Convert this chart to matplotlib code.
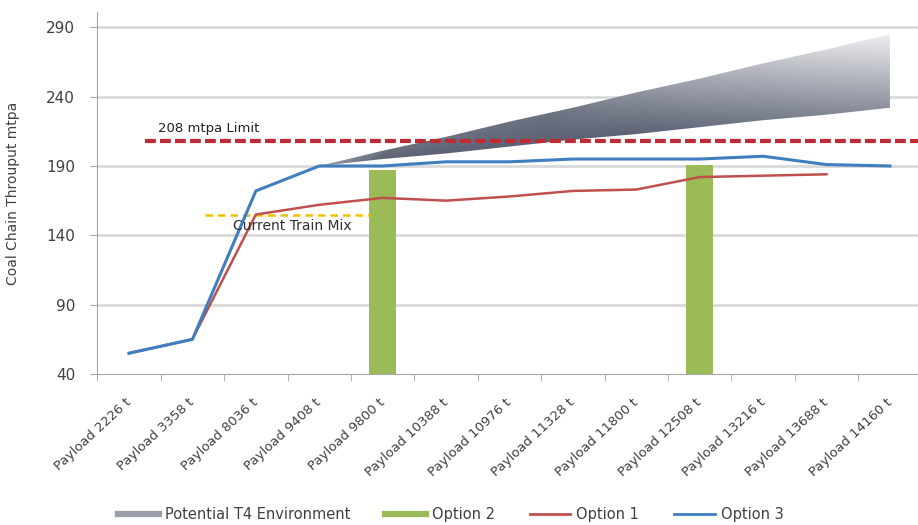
import numpy as np
import matplotlib
matplotlib.use("Agg")
import matplotlib.pyplot as plt
from matplotlib.lines import Line2D

plt.rcParams['font.family'] = ['DejaVu Sans']

# Categories along the x axis
PAYLOADS = ["Payload 2226 t", "Payload 3358 t", "Payload 8036 t", "Payload 9408 t",
            "Payload 9800 t", "Payload 10388 t", "Payload 10976 t", "Payload 11328 t",
            "Payload 11800 t", "Payload 12508 t", "Payload 13216 t", "Payload 13688 t",
            "Payload 14160 t"]

# Option 3 (blue) - all payloads
OPTION_3 = [55, 65, 172, 190, 190, 193, 193, 195, 195, 195, 197, 191, 190]
# Option 1 (red) - stops at 13688 t
OPTION_1 = [55, 65, 155, 162, 167, 165, 168, 172, 173, 182, 183, 184]
# Option 2 (green bars) - only two payloads
OPTION_2_CATS = ["Payload 9800 t", "Payload 12508 t"]
OPTION_2 = [187, 191]

# Potential T4 envelope, from 9408 t onwards
T4_LOW = [190, 195, 199, 204, 209, 213, 218, 223, 227, 232]
T4_HIGH = [190, 201, 211, 222, 232, 243, 253, 264, 274, 285]

LIMIT = 208
CURRENT_MIX = 155

GRID_COL = "#d9d9d9"
TXT_COL = "#404040"

fig = plt.figure(figsize=(9.18, 5.25), dpi=100)
ax = fig.add_axes([0.106, 0.2876, 0.898, 0.6895])

x = np.arange(len(PAYLOADS))

# gridlines
ax.set_ylim(40, 301)
ax.set_xlim(-0.5, len(PAYLOADS) - 0.5)
yt = [40, 90, 140, 190, 240, 290]
ax.set_yticks(yt)
for v in yt[1:]:
    ax.axhline(v, color=GRID_COL, lw=2, zorder=0)

# Potential T4 environment - gradient wedge, dark at the bottom, fading up and right
x_t4 = x[3:]
poly = ax.fill_between(x_t4, T4_LOW, T4_HIGH, facecolor="none", edgecolor="none")
ny, nx = 300, 400
y0, y1 = 185, 292
xs = np.linspace(x_t4[0], x_t4[-1], nx)
u = (xs - xs[0]) / (xs[-1] - xs[0])
lo = np.interp(xs, x_t4, T4_LOW)
hi = np.interp(xs, x_t4, T4_HIGH)
yy = np.linspace(y0, y1, ny)[:, None]
s = np.clip((yy - lo[None, :]) / np.maximum(hi - lo, 1)[None, :], 0, 1)
d_bot = 1.0 - 0.3 * np.clip((u - 0.55) / 0.45, 0, 1)
d_top = 0.9 - 0.8 * np.clip((u - 0.4) / 0.6, 0, 1)
d = d_bot[None, :] * (1 - s) + d_top[None, :] * s
d = d * np.clip(0.65 + u * 3, 0, 1)[None, :]
d = d[..., None]
dark = np.array([92, 98, 116]) / 255.0
white = np.array([1.0, 1.0, 1.0])
img = white * (1 - d) + dark * d
im = ax.imshow(img, extent=[x_t4[0], x_t4[-1], y0, y1], origin="lower",
               aspect="auto", zorder=1, interpolation="bilinear")
im.set_clip_path(poly.get_paths()[0], transform=ax.transData)

# Option 2 bars
bx = [PAYLOADS.index(c) for c in OPTION_2_CATS]
ax.bar(bx, [val - 40 for val in OPTION_2], bottom=40, width=0.42,
       color="#9bbb59", zorder=2)

# limit line
ax.plot([0.25, 12.6], [LIMIT, LIMIT], color="#bf2a33", lw=3, ls=(0, (2.6, 1.0)), zorder=3)
ax.text(0.45, 217, "208 mtpa Limit", fontsize=9.5, color="#202020", va="center", zorder=5)

# current train mix
ax.plot([1.2, 3.8], [CURRENT_MIX, CURRENT_MIX], color="#f2c200", lw=1.8,
        ls=(0, (3, 2)), zorder=3)
ax.text(2.58, 146.5, "Current Train Mix", fontsize=10, color="#303030", ha="center",
        va="center", zorder=5)

# Option lines
ax.plot(x[:len(OPTION_1)], OPTION_1, color="#c0504d", lw=1.8, zorder=4)
ax.plot(x, OPTION_3, color="#3f7fbf", lw=2.2, zorder=4)

# axes styling
for s_ in ["top", "right"]:
    ax.spines[s_].set_visible(False)
ax.spines["left"].set_color("#a6a6a6")
ax.spines["bottom"].set_color("#a6a6a6")
ax.tick_params(axis="y", colors="#a6a6a6", labelcolor=TXT_COL, labelsize=11,
               length=5, pad=11)
ax.set_xticks(x)
ax.set_xticklabels(PAYLOADS, rotation=43, ha="right", va="center",
                   rotation_mode="anchor", fontsize=9.5, color=TXT_COL)
ax.tick_params(axis="x", length=0, pad=19)
ax.set_xticks(np.arange(-0.5, len(PAYLOADS)), minor=True)
ax.tick_params(axis="x", which="minor", length=5, colors="#a6a6a6")
ax.set_ylabel("Coal Chain Throuput mtpa", fontsize=10, color=TXT_COL)
ax.yaxis.set_label_coords(-0.094, 0.5)

handles = [
    Line2D([], [], color="#9a9ea8", lw=4.5),
    Line2D([], [], color="#9bbb59", lw=4.5),
    Line2D([], [], color="#c0504d", lw=2),
    Line2D([], [], color="#3f7fbf", lw=2),
]
labels = ["Potential T4 Environment", "Option 2", "Option 1", "Option 3"]
fig.legend(handles, labels, loc="lower center", bbox_to_anchor=(0.491, -0.02), ncol=4,
           frameon=False, fontsize=10.5, handlelength=2.8, columnspacing=2.4,
           handletextpad=0.4, labelcolor=TXT_COL)

fig.savefig("out.png", dpi=100)
